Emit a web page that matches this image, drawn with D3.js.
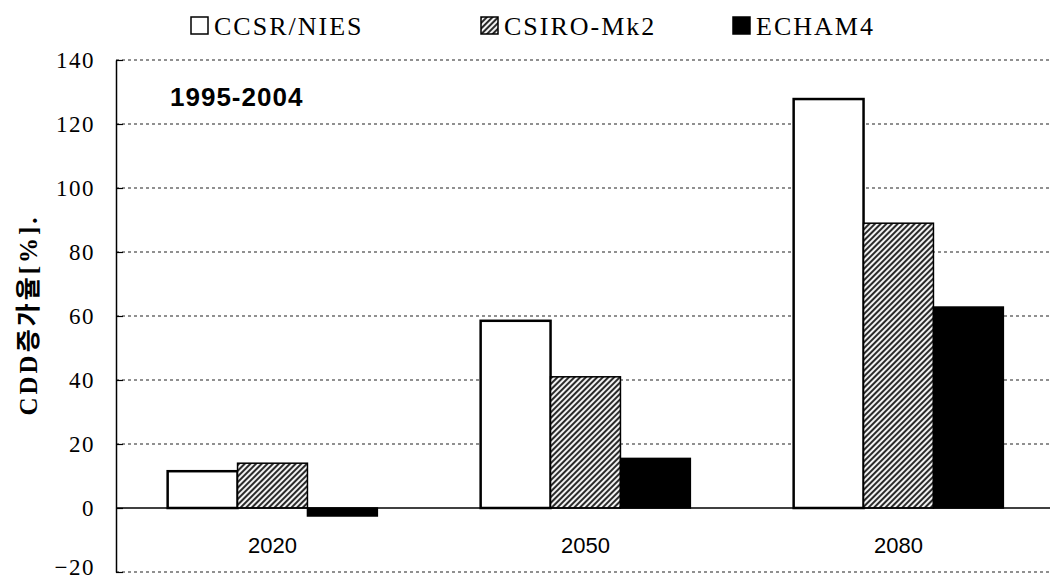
<!DOCTYPE html>
<html>
<head>
<meta charset="utf-8">
<script src="https://cdn.jsdelivr.net/npm/d3@7"></script>
<style>
    body { margin: 0; background: #fff; }
    svg { display: block; }
</style>
</head>
<body>
<svg id="chart" width="1050" height="580"></svg>
<script>
var years = ["2020", "2050", "2080"];
var models = ["CCSR/NIES", "CSIRO-Mk2", "ECHAM4"];
var ccsr = [11.5, 58.5, 127.8];
var csiro = [14.0, 41.0, 89.0];
var echam = [-2.5, 15.5, 62.8];
var yTicks = [-20, 0, 20, 40, 60, 80, 100, 120, 140];
var periodLabel = "1995-2004";
var yTitle = "CDD증가율[%].";

d3.select(window).on('load', init);

function init() {
    var series = [ccsr, csiro, echam];
    var rows = [];
    years.forEach(function(y, i) {
        models.forEach(function(m, j) {
            rows.push({year: y, model: m, value: series[j][i]});
        });
    });
    draw(rows);
}

function draw(rows) {
    var svg = d3.select("#chart");
    var left = 116, right = 1055, top = 60, bottom = 572;

    var defs = svg.append("defs");
    var pat = defs.append("pattern")
        .attr("id", "hatch")
        .attr("patternUnits", "userSpaceOnUse")
        .attr("width", 4)
        .attr("height", 4)
        .attr("patternTransform", "rotate(45)");
    pat.append("rect").attr("width", 4).attr("height", 4).attr("fill", "#f2f2f2");
    pat.append("line")
        .attr("x1", 1).attr("y1", 0).attr("x2", 1).attr("y2", 4)
        .attr("stroke", "#2a2a2a").attr("stroke-width", 2);

    var xScale = d3.scaleBand()
        .domain(years)
        .range([left, right])
        .paddingInner(0.33)
        .paddingOuter(0.165);

    var xInner = d3.scaleBand()
        .domain(models)
        .range([0, xScale.bandwidth()]);

    var yScale = d3.scaleLinear()
        .domain([-20, 140])
        .range([bottom, top]);

    var fills = {"CCSR/NIES": "#fff", "CSIRO-Mk2": "url(#hatch)", "ECHAM4": "#000"};

    // dotted grid
    svg.append("g")
        .selectAll("line")
        .data(yTicks.filter(function(d) { return d != 0; }))
        .enter()
        .append("line")
        .attr("x1", left)
        .attr("x2", 1050)
        .attr("y1", function(d) { return yScale(d); })
        .attr("y2", function(d) { return yScale(d); })
        .attr("stroke", "#222")
        .attr("stroke-width", 1.2)
        .attr("stroke-dasharray", "3,3");

    // bars
    svg.append("g")
        .selectAll("rect")
        .data(rows)
        .enter()
        .append("rect")
        .attr("x", function(d) { return xScale(d.year) + xInner(d.model); })
        .attr("width", xInner.bandwidth())
        .attr("y", function(d) { return yScale(Math.max(0, d.value)); })
        .attr("height", function(d) { return Math.abs(yScale(d.value) - yScale(0)); })
        .attr("fill", function(d) { return fills[d.model]; })
        .attr("stroke", "#000")
        .attr("stroke-width", function(d) { return d.model == "CCSR/NIES" ? 2.5 : 1.5; });

    // zero line
    svg.append("line")
        .attr("x1", left).attr("x2", 1050)
        .attr("y1", yScale(0)).attr("y2", yScale(0))
        .attr("stroke", "#000")
        .attr("stroke-width", 1.5);

    // y axis
    var yAxis = d3.axisLeft(yScale)
        .tickValues(yTicks)
        .tickSizeInner(-7)
        .tickSizeOuter(0)
        .tickPadding(21)
        .tickFormat(function(d) { return d < 0 ? "\u2212" + Math.abs(d) : d; });

    var gy = svg.append("g")
        .attr("transform", "translate(" + left + ",0)")
        .call(yAxis);
    gy.select(".domain").attr("stroke", "#000").attr("stroke-width", 1.5);
    gy.selectAll(".tick line").attr("stroke", "#000").attr("stroke-width", 1.2);
    gy.selectAll(".tick text")
        .attr("fill", "#000")
        .attr("dy", function(d) { return d < 0 ? "0.1em" : "0.32em"; })
        .style("font-family", "'Liberation Serif', serif")
        .style("font-size", "23px")
        .style("letter-spacing", "1.5px");

    // x labels
    svg.append("g")
        .selectAll("text")
        .data(years)
        .enter()
        .append("text")
        .attr("x", function(d) { return xScale(d) + xScale.bandwidth() / 2; })
        .attr("y", 553)
        .attr("text-anchor", "middle")
        .style("font-family", "'Liberation Sans', sans-serif")
        .style("font-size", "22px")
        .text(function(d) { return d; });

    // period label
    svg.append("text")
        .attr("x", 170)
        .attr("y", 106)
        .style("font-family", "'Liberation Sans', sans-serif")
        .style("font-weight", "bold")
        .style("font-size", "26px")
        .style("letter-spacing", "1px")
        .text(periodLabel);

    // y title
    svg.append("text")
        .attr("transform", "translate(37,315) rotate(-90)")
        .attr("text-anchor", "middle")
        .style("font-family", "'Liberation Serif', 'Noto Sans CJK KR', serif")
        .style("font-weight", "bold")
        .style("font-size", "25px")
        .style("letter-spacing", "3px")
        .text(yTitle);

    // legend
    var legendX = [190, 480, 732];
    var lg = svg.append("g")
        .selectAll("g")
        .data(models)
        .enter()
        .append("g")
        .attr("transform", function(d, i) { return "translate(" + legendX[i] + ",0)"; });
    lg.append("rect")
        .attr("x", 1).attr("y", 17)
        .attr("width", 17).attr("height", 17)
        .attr("fill", function(d) { return fills[d]; })
        .attr("stroke", "#000")
        .attr("stroke-width", 1.5);
    lg.append("text")
        .attr("x", 24)
        .attr("y", 35)
        .style("font-family", "'Liberation Serif', serif")
        .style("font-size", "26px")
        .style("letter-spacing", "2px")
        .text(function(d) { return d; });
}
</script>
</body>
</html>
